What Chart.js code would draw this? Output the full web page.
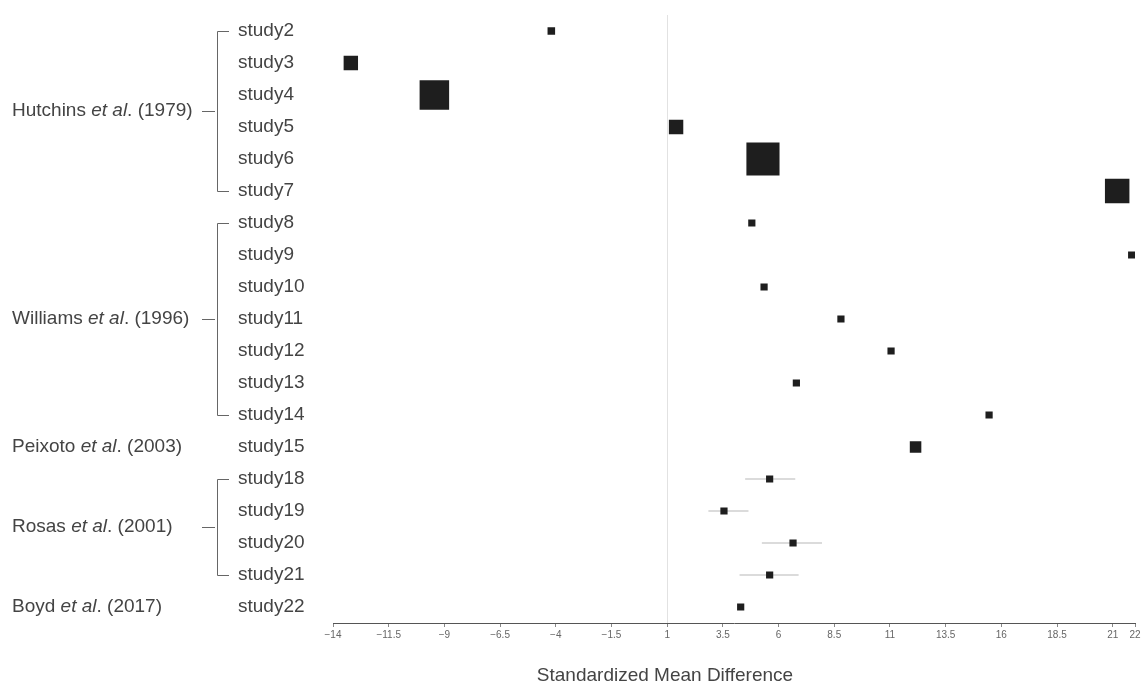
<!DOCTYPE html>
<html>
<head>
<meta charset="utf-8">
<script src="https://cdn.jsdelivr.net/npm/chart.js@4/dist/chart.umd.min.js"></script>
<style>
  html, body { margin: 0; padding: 0; background: #fff; }
  #wrap { width: 1146px; height: 686px; }
</style>
</head>
<body>
<div id="wrap"><canvas id="forest" width="1146" height="686"></canvas></div>
<script>
const studies = [
  "study2", "study3", "study4", "study5", "study6", "study7",
  "study8", "study9", "study10", "study11", "study12", "study13", "study14",
  "study15", "study18", "study19", "study20", "study21", "study22",
];
const smd = [
  -4.2, -13.2, -9.45, 1.4, 5.3, 21.2,
  4.8, 21.85, 5.35, 8.8, 11.05, 6.8, 15.45,
  12.15, 5.6, 3.55, 6.65, 5.6, 4.3,
];
// relative study weights (square size)
const weights = [
  1.05, 2, 4.1, 2, 4.6, 3.4,
  1, 1, 1, 1, 1, 1, 1,
  1.6, 1, 1, 1, 1, 1,
];
const ciLow = [
  null, null, null, null, null, null,
  null, null, null, null, null, null, null,
  null, 4.5, 2.85, 5.25, 4.25, null,
];
const ciHigh = [
  null, null, null, null, null, null,
  null, null, null, null, null, null, null,
  null, 6.75, 4.65, 7.95, 6.9, null,
];
const xTicks = [-14, -11.5, -9, -6.5, -4, -1.5, 1, 3.5, 6, 8.5, 11, 13.5, 16, 18.5, 21, 22];
const refValue = 1;
const groups = [
  { author: "Hutchins", year: "(1979)", from: 0, to: 5 },
  { author: "Williams", year: "(1996)", from: 6, to: 12 },
  { author: "Peixoto", year: "(2003)", from: 13, to: 13 },
  { author: "Rosas", year: "(2001)", from: 14, to: 17 },
  { author: "Boyd", year: "(2017)", from: 18, to: 18 },
];
const xTitle = "Standardized Mean Difference";

const textColor = "#444";
const font = "Liberation Sans, Arial, sans-serif";

let ciSets = [];
for (let i = 0; i < studies.length; i++) {
  if (ciLow[i] === null) continue;
  ciSets.push({
    type: "line",
    data: [
      { x: ciLow[i], y: studies[i] },
      { x: ciHigh[i], y: studies[i] },
    ],
    borderColor: "#cfcfcf",
    borderWidth: 1.5,
    pointRadius: 0,
    order: 2,
  });
}

const extras = {
  id: "extras",
  beforeDatasetsDraw(chart) {
    const ctx = chart.ctx;
    const area = chart.chartArea;
    const px = chart.scales.x.getPixelForValue(refValue);
    ctx.save();
    ctx.strokeStyle = "#e2e2e2";
    ctx.lineWidth = 1;
    ctx.beginPath();
    ctx.moveTo(Math.round(px) + 0.5, area.top);
    ctx.lineTo(Math.round(px) + 0.5, area.bottom);
    ctx.stroke();
    ctx.restore();
  },
  afterDraw(chart) {
    const ctx = chart.ctx;
    const y = chart.scales.y;
    ctx.save();
    ctx.fillStyle = textColor;
    ctx.strokeStyle = "#666";
    ctx.lineWidth = 1;
    ctx.textBaseline = "middle";
    groups.forEach((g) => {
      const ya = y.getPixelForValue(g.from);
      const yb = y.getPixelForValue(g.to);
      const mid = (ya + yb) / 2;
      let x = 12;
      ctx.font = "19px " + font;
      ctx.fillText(g.author + " ", x, mid);
      x += ctx.measureText(g.author + " ").width;
      ctx.font = "italic 19px " + font;
      ctx.fillText("et al", x, mid);
      x += ctx.measureText("et al").width;
      ctx.font = "19px " + font;
      ctx.fillText(". " + g.year, x, mid);
      if (g.to > g.from) {
        ctx.beginPath();
        ctx.moveTo(229, Math.round(ya) + 0.5);
        ctx.lineTo(217.5, Math.round(ya) + 0.5);
        ctx.lineTo(217.5, Math.round(yb) + 0.5);
        ctx.lineTo(229, Math.round(yb) + 0.5);
        ctx.moveTo(202, Math.round(mid) + 0.5);
        ctx.lineTo(215, Math.round(mid) + 0.5);
        ctx.stroke();
      }
    });
    ctx.font = "19px " + font;
    ctx.textAlign = "center";
    ctx.fillText(xTitle, 665, 676);
    ctx.restore();
  },
};

new Chart(document.getElementById("forest"), {
  type: "scatter",
  data: {
    datasets: [
      {
        data: smd.map((v, i) => ({ x: v, y: studies[i] })),
        pointStyle: "rect",
        pointRadius: weights.map((w) => (w * 7.2) / 1.414),
        backgroundColor: "#1e1e1e",
        borderWidth: 0,
        order: 1,
      },
      ...ciSets,
    ],
  },
  options: {
    responsive: false,
    animation: false,
    events: [],
    layout: {
      autoPadding: false,
      padding: { left: 238, right: 11, top: 15, bottom: 43 },
    },
    plugins: {
      legend: { display: false },
      tooltip: { enabled: false },
    },
    scales: {
      x: {
        type: "linear",
        min: -14,
        max: 22,
        afterBuildTicks: (scale) => {
          scale.ticks = xTicks.map((v) => ({ value: v }));
        },
        afterFit: (scale) => {
          scale.paddingLeft = 0;
          scale.paddingRight = 0;
        },
        grid: {
          drawOnChartArea: false,
          drawTicks: true,
          tickLength: 4,
          color: "#888",
        },
        border: { color: "#555", width: 1 },
        ticks: {
          color: "#666",
          font: { family: font, size: 10 },
          padding: 2,
          maxRotation: 0,
          autoSkip: false,
          callback: (v) => (v < 0 ? "\u2212" + Math.abs(v) : String(v)),
        },
      },
      y: {
        type: "category",
        labels: studies,
        offset: true,
        grid: { display: false },
        border: { display: false },
        afterFit: (scale) => {
          scale.width = 95;
          scale.paddingTop = 0;
          scale.paddingBottom = 0;
        },
        ticks: {
          color: textColor,
          font: { family: font, size: 19 },
          crossAlign: "far",
          padding: 0,
          autoSkip: false,
        },
      },
    },
  },
  plugins: [extras],
});
</script>
</body>
</html>
